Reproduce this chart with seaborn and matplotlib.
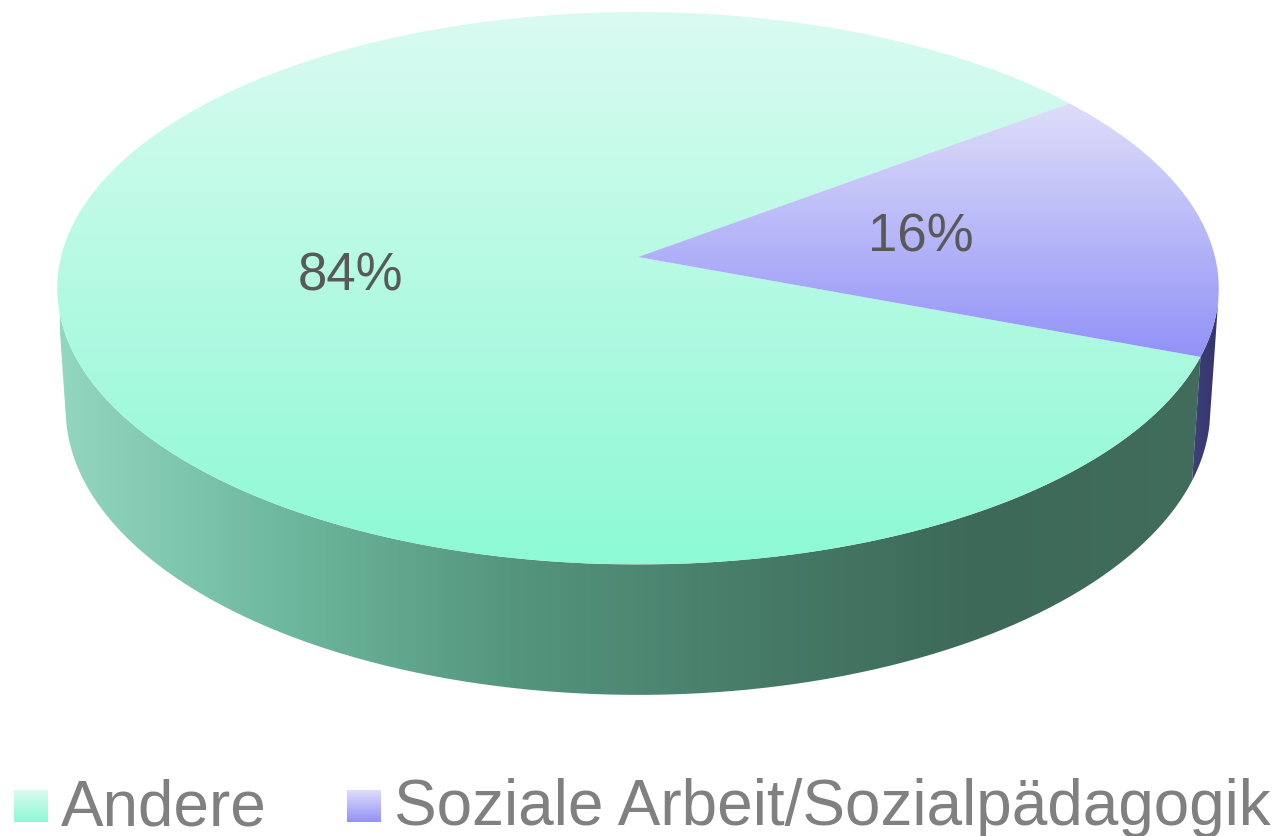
"""3D pie chart: Andere vs. Soziale Arbeit/Sozialpädagogik."""

import numpy as np
import matplotlib
matplotlib.use("Agg")
from matplotlib import pyplot as plt
from matplotlib.path import Path
import seaborn as sns

# data
labels = ["Andere", "Soziale Arbeit/Sozialpädagogik"]
shares = [84, 16]
start_angle = 37.0  # degrees, first slice runs counter-clockwise from here

# colours: (top of gradient, bottom of gradient) for the top faces
top_colors = [("#dafbf1", "#8df9d5"), ("#dedefa", "#9292f8")]
side_colors = [
    ["#93d6bf", "#6cb79d", "#54947d", "#477c69", "#3d6958", "#426d5d"],
    ["#3f3f7a", "#35356a"],
]

# projection parameters (perspective cylinder seen from above)
ELEV = np.deg2rad(28.2)
DIST = 7.79
FOCAL = 4495.0
HEIGHT = 0.24
CX, CY = 638.0, 257.0


def project(theta, z=0.0, r=1.0):
    """Perspective projection of a point on the disk to pixel coordinates."""
    c, s = np.cos(ELEV), np.sin(ELEV)
    x = r * np.cos(theta)
    y = r * np.sin(theta)
    depth = DIST + y * c - z * s
    u = FOCAL * x / depth
    v = FOCAL * (y * s + z * c) / depth
    return CX + u, CY - v


def gradient_fill(ax, verts, cmap, extent, vertical=True):
    """Fill polygon with a linear gradient clipped to it."""
    path = Path(np.asarray(verts))
    patch = matplotlib.patches.PathPatch(path, facecolor="none", edgecolor="none")
    ax.add_patch(patch)
    grad = np.linspace(0, 1, 256)
    img = grad[:, None] if vertical else grad[None, :]
    im = ax.imshow(
        img, cmap=cmap, extent=extent, origin="upper", aspect="auto",
        interpolation="bilinear", zorder=patch.get_zorder(),
    )
    im.set_clip_path(patch)
    return im


sns.set_theme(style="white")
plt.rcParams["font.family"] = ["Liberation Sans", "DejaVu Sans"]

fig = plt.figure(figsize=(12.84, 8.36), dpi=100)
ax = fig.add_axes([0, 0, 1, 1])
ax.set_xlim(0, 1284)
ax.set_ylim(836, 0)
ax.axis("off")

fractions = np.array(shares, dtype=float) / sum(shares)
bounds = np.deg2rad(start_angle + 360 * np.concatenate([[0], np.cumsum(fractions)]))

# visible part of the side wall: sin(theta) < -1/(D cos(elev))
lim = np.arcsin(-1 / (DIST * np.cos(ELEV)))
vis_lo, vis_hi = np.pi - lim, 2 * np.pi + lim  # ~188 deg .. ~352 deg

# side walls
for i in range(len(shares)):
    a0, a1 = bounds[i], bounds[i + 1]
    # bring visible window into the same turn
    for shift in (0, 2 * np.pi, -2 * np.pi):
        lo = max(a0, vis_lo + shift)
        hi = min(a1, vis_hi + shift)
        if hi > lo:
            t = np.linspace(lo, hi, 300)
            tx, ty = project(t, 0.0)
            bx, by = project(t[::-1], -HEIGHT)
            verts = np.column_stack([np.concatenate([tx, bx]), np.concatenate([ty, by])])
            cmap = sns.blend_palette(side_colors[i], as_cmap=True)
            if i == 0:
                extent = (60, 1210, 700, 280)
            else:
                extent = (verts[:, 0].min(), verts[:, 0].max(), 700, 280)
            gradient_fill(ax, verts, cmap, extent, vertical=False)

# top faces
for i in range(len(shares)):
    t = np.linspace(bounds[i], bounds[i + 1], 400)
    rx, ry = project(t, 0.0)
    xs = np.concatenate([[CX], rx])
    ys = np.concatenate([[CY], ry])
    verts = np.column_stack([xs, ys])
    cmap = sns.blend_palette(list(top_colors[i]), as_cmap=True)
    extent = (xs.min(), xs.max(), ys.max(), ys.min())
    gradient_fill(ax, verts, cmap, extent, vertical=True)

# percentage labels at half radius
for i, val in enumerate(shares):
    mid = (bounds[i] + bounds[i + 1]) / 2
    lx, ly = project(mid, 0.0, r=0.5)
    ax.text(lx, ly, f"{val}%", ha="center", va="center", fontsize=38, color="#595959")

# legend
legend_x = [14, 347]
for i, lab in enumerate(labels):
    x0 = legend_x[i]
    sq = [(x0, 790), (x0 + 34, 790), (x0 + 34, 822), (x0, 822), (x0, 790)]
    cmap = sns.blend_palette(list(top_colors[i]), as_cmap=True)
    gradient_fill(ax, sq, cmap, (x0, x0 + 34, 822, 790), vertical=True)
    ax.text(x0 + 47, 825, lab, ha="left", va="baseline", fontsize=46, color="#808080")

fig.savefig("out.png", dpi=100)
